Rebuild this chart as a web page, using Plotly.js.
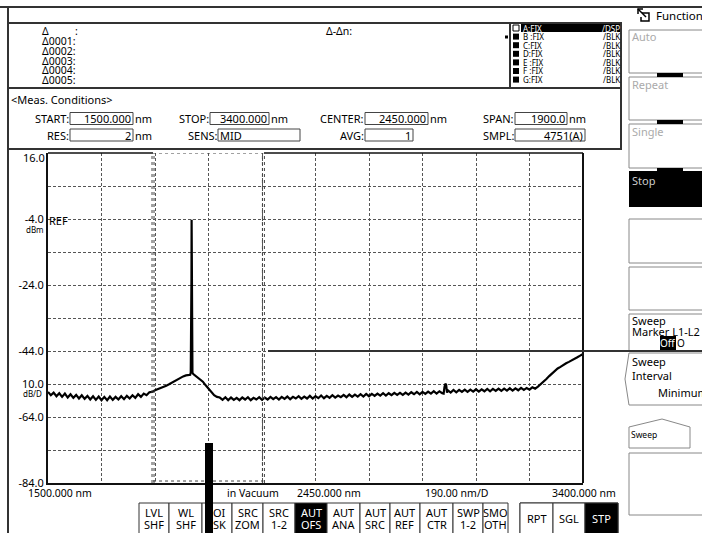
<!DOCTYPE html>
<html><head><meta charset="utf-8">
<script src="https://cdn.plot.ly/plotly-3.0.1.min.js"></script>
<style>html,body{margin:0;padding:0;background:#fff}#chart{width:702px;height:533px}</style>
</head><body><div id="chart"></div>
<script>
// ---------- DATA ----------
const wavelengthNm = [
 1500,1510,1520,1530,1540,1550,1560,1570,1580,1590,
 1600,1610,1620,1630,1640,1650,1660,1670,1680,1690,
 1700,1710,1720,1730,1740,1750,1760,1770,1780,1790,
 1800,1810,1820,1830,1840,1850,1860,
 1870,1880,1890,1900,1910,1920,1930,1940,1950,1960,1970,1980,1990,2000,
 2005,2007,2008.5,2009.5,2010,2010.5,2011.5,2013,
 2016,2022,2030,2040,2050,2060,2070,2080,2090,2100,
 2110,2120,2130,2140,2150,2160,2170,2180,2190,2200,
 2210,2220,2230,2240,2250,2260,2270,2280,2290,2300,
 2310,2320,2330,2340,2350,2360,2370,2380,2390,2400,
 2410,2420,2430,2440,2450,2460,2470,2480,2490,2500,
 2510,2520,2530,2540,2550,2560,2570,2580,2590,2600,
 2610,2620,2630,2640,2650,2660,2670,2680,2690,2700,
 2710,2720,2730,2740,2750,2760,2770,2780,2790,2800,
 2810,2820,2830,2840,2850,2860,2870,2880,2890,2900,
 2905,2908,2911,2914,2917,
 2920,2930,2940,2950,2960,2970,2980,2990,3000,3010,
 3020,3030,3040,3050,3060,3070,3080,3090,3100,3110,
 3120,3130,3140,3150,3160,3170,3180,3190,3200,3210,
 3220,3230,
 3240,3250,3260,3270,3280,3290,3300,3310,3320,3330,
 3340,3350,3360,3370,3380,3390,3400
];
const levelDbm = [
 -56.4,-57.4,-56.6,-57.7,-56.8,-57.9,-56.9,-58.1,-57.1,-58.2,
 -57.3,-58.4,-57.4,-58.5,-57.6,-58.7,-57.7,-58.8,-57.8,-58.9,
 -57.9,-58.9,-57.8,-58.8,-57.9,-58.7,-57.7,-58.6,-57.6,-58.4,
 -57.4,-58.2,-57.1,-57.9,-56.9,-57.4,-56.5,
 -56.4,-55.9,-55.6,-55.2,-54.9,-54.5,-54.1,-53.6,-53.2,-52.6,-52.1,-51.7,-51.4,-51.3,
 -51.2,-50.5,-42.0,-22.0,-4.2,-22.0,-43.0,-50.6,
 -51.0,-51.4,-51.9,-52.5,-53.3,-54.4,-55.5,-56.6,-57.4,-57.9,
 -58.1,-58.8,-58.0,-58.9,-58.1,-58.8,-58.2,-58.9,-58.1,-58.7,
 -58.0,-58.9,-58.2,-58.7,-58.0,-58.8,-58.1,-58.7,-57.9,-58.6,
 -58.0,-58.7,-57.9,-58.5,-57.8,-58.6,-57.9,-58.4,-57.7,-58.5,
 -57.8,-58.4,-57.6,-58.4,-57.7,-58.3,-57.5,-58.3,-57.6,-58.2,
 -57.4,-58.1,-57.5,-58.0,-57.3,-58.0,-57.2,-57.9,-57.2,-57.8,
 -57.1,-57.8,-57.0,-57.7,-57.0,-57.6,-56.9,-57.5,-56.8,-57.5,
 -56.8,-57.4,-56.7,-57.3,-56.7,-57.3,-56.6,-57.2,-56.5,-57.1,
 -56.4,-57.1,-56.4,-57.0,-56.3,-56.9,-56.2,-56.9,-56.2,-56.8,
 -56.9,-55.0,-53.9,-54.2,-56.6,
 -55.9,-56.6,-55.8,-56.5,-55.8,-56.4,-55.7,-56.4,-55.7,-56.3,
 -55.6,-56.3,-55.6,-56.2,-55.5,-56.2,-55.5,-56.1,-55.4,-56.1,
 -55.4,-56.0,-55.3,-56.0,-55.3,-55.9,-55.2,-55.8,-55.2,-55.7,
 -55.0,-55.4,
 -54.8,-54.1,-53.3,-52.5,-51.6,-50.8,-50.0,-49.3,-48.8,-48.2,
 -47.7,-47.3,-46.9,-46.4,-45.9,-45.4,-44.9
];
const yTickValues = [16, 6, -4, -14, -24, -34, -44, -54, -64, -74, -84];
const yTickLabels = ['', '', '-4.0', '', '-24.0', '', '-44.0', '10.0', '-64.0', '', '-84.0'];
const xRange = [1500, 3400];
const xDivision = 190;
const sweepMarkersNm = [1873, 2265];
const bottomLabels = ['1500.000 nm', 'in Vacuum', '2450.000 nm', '190.00 nm/D', '3400.000 nm'];
const markerRows = ['Δ0001:', 'Δ0002:', 'Δ0003:', 'Δ0004:', 'Δ0005:'];
const traceNames = ['A:FIX', 'B :FIX', 'C:FIX', 'D:FIX', 'E :FIX', 'F :FIX', 'G:FIX'];
const traceModes = ['/DSP', '/BLK', '/BLK', '/BLK', '/BLK', '/BLK', '/BLK'];
const condLabels1 = ['START:', 'STOP:', 'CENTER:', 'SPAN:'];
const condValues1 = ['1500.000', '3400.000', '2450.000', '1900.0'];
const condLabels2 = ['RES:', 'SENS:', 'AVG:', 'SMPL:'];
const condValues2 = ['2', 'MID', '1', '4751(A)'];
const keyTop = ['LVL', 'WL', 'OI', 'SRC', 'SRC', 'AUT', 'AUT', 'AUT', 'AUT', 'AUT', 'SWP', 'SMO'];
const keyBottom = ['SHF', 'SHF', 'SK', 'ZOM', '1-2', 'OFS', 'ANA', 'SRC', 'REF', 'CTR', '1-2', 'OTH'];
const sweepKeys = ['RPT', 'SGL', 'STP'];

// ---------- LAYOUT HELPERS ----------
const W = 702, H = 533;
const FONT = '"Noto Sans", "DejaVu Sans", sans-serif';
const PX = x => x / W, PY = y => 1 - y / H;
const annotations = [], shapes = [];
function txt(x, y, t, o = {}) {
  annotations.push({xref:'paper', yref:'paper', x:PX(x), y:PY(y), text:t, showarrow:false,
    xanchor:o.a || 'left', yanchor:'middle', borderpad:0, borderwidth:0,
    bgcolor:o.bg || 'rgba(0,0,0,0)',
    font:{family:FONT, size:o.s || 11, color:o.c || '#000'}});
}
function rect(x0, y0, x1, y1, o = {}) {
  shapes.push({type:'rect', xref:'paper', yref:'paper', x0:PX(x0), x1:PX(x1), y0:PY(y1), y1:PY(y0),
    line:{color:o.lc || '#222', width:(o.lw === undefined ? 1 : o.lw)},
    fillcolor:o.fill || 'rgba(0,0,0,0)', layer:'above'});
}
function seg(x0, y0, x1, y1, o = {}) {
  shapes.push({type:'line', xref:'paper', yref:'paper', x0:PX(x0), x1:PX(x1), y0:PY(y0), y1:PY(y1),
    line:{color:o.c || '#222', width:o.w || 1, dash:o.d || 'solid'}, layer:'above'});
}
function poly(pts, o = {}) {
  const d = pts.map((p, i) => (i ? 'L' : 'M') + PX(p[0]).toFixed(5) + ',' + PY(p[1]).toFixed(5)).join(' ') + (o.close ? ' Z' : '');
  shapes.push({type:'path', xref:'paper', yref:'paper', path:d,
    line:{color:o.c || '#222', width:o.w || 1}, fillcolor:o.fill || 'rgba(0,0,0,0)', layer:'above'});
}

// ---------- FRAMES ----------
seg(0, 7, 702, 7, {w:2, c:'#333'});
seg(8, 7, 8, 533, {w:2, c:'#333'});
rect(8, 23, 621, 149, {lw:2, lc:'#333'});
seg(8, 88, 621, 88, {w:2, c:'#333'});
seg(510, 23, 510, 88, {w:2, c:'#333'});

// marker list
txt(42, 31, 'Δ', {s:10.5}); txt(75, 31, ':', {s:10.5});
markerRows.forEach((t, i) => txt(42, 41 + i * 9.8, t, {s:10.5}));
txt(326, 31, 'Δ-Δn:', {s:10.5});

// trace list
rect(521, 24, 620, 32, {lw:0, fill:'#000'});
rect(505, 35.5, 508, 38.5, {lw:0, fill:'#000'});
traceNames.forEach((t, i) => {
  const y = 28 + i * 8.6;
  if (i === 0) rect(513, y - 3, 519, y + 3, {lw:1, lc:'#000', fill:'#fff'});
  else rect(513, y - 3, 519, y + 3, {lw:0, fill:'#000'});
  const col = i === 0 ? '#fff' : '#000';
  txt(523, y, t, {s:8, c:col});
  txt(620, y, traceModes[i], {s:8, c:col, a:'right'});
});

// measurement conditions
txt(11, 99, '&lt;Meas. Conditions&gt;');
const c1 = [[69, 70, 133, 'r'], [209, 210, 269, 'r'], [364, 365, 428, 'r'], [514, 515, 567, 'r']];
const c2 = [[69, 70, 133, 'r'], [218, 218, 300, 'l'], [364, 365, 413, 'r'], [514, 515, 585, 'r']];
const nm1 = [true, true, true, true], nm2 = [true, false, false, false];
c1.forEach((c, i) => {
  txt(c[0], 118.5, condLabels1[i], {a:'right'});
  rect(c[1], 112.5, c[2], 124.5, {lw:1, lc:'#444'});
  txt(c[2] - 2, 118.5, condValues1[i], {a:'right'});
  if (nm1[i]) txt(c[2] + 2, 118.5, 'nm');
});
c2.forEach((c, i) => {
  txt(c[0], 135, condLabels2[i], {a:'right'});
  rect(c[1], 129, c[2], 141, {lw:1, lc:'#444'});
  if (c[3] === 'l') txt(c[1] + 2, 135, condValues2[i]);
  else txt(c[2] - 2, 135, condValues2[i], {a:'right'});
  if (nm2[i]) txt(c[2] + 2, 135, 'nm');
});

// plot frame extras
seg(583, 153, 583, 483, {w:2, c:'#111'});
seg(48, 153, 153, 153, {w:1.5, c:'#111'});
seg(264, 153, 583, 153, {w:1.5, c:'#111'});
txt(45, 157, '16.0', {a:'right'});
txt(49, 220, 'REF');
txt(44, 229, 'dBm', {s:8, a:'right'});
txt(42, 393, 'dB/D', {s:8, a:'right'});

// sweep marker dotted box (data coords)
const nmPerPx = (xRange[1] - xRange[0]) / 535;
sweepMarkersNm.forEach(m => {
  [m - nmPerPx, m + nmPerPx].forEach(x => shapes.push({type:'line', xref:'x', yref:'y', x0:x, x1:x, y0:-84, y1:16,
    line:{color:'#444', width:1, dash:'dot'}, layer:'above'}));
});
shapes.push({type:'line', xref:'x', yref:'y', x0:sweepMarkersNm[0], x1:sweepMarkersNm[1], y0:16, y1:16, line:{color:'#444', width:1, dash:'dot'}, layer:'above'});
shapes.push({type:'line', xref:'x', yref:'y', x0:sweepMarkersNm[0], x1:sweepMarkersNm[1], y0:-83.4, y1:-83.4, line:{color:'#444', width:1, dash:'dot'}, layer:'above'});

// bottom axis labels
const bx = [28, 227, 297, 425, 552];
bottomLabels.forEach((t, i) => txt(bx[i], 493, t, {s:10.5}));

// bottom soft keys
const kb = [139, 169, 202, 232, 263, 295, 327, 360, 390, 420, 453, 483, 508];
keyTop.forEach((t, i) => {
  const dark = keyBottom[i] === 'OFS';
  rect(kb[i], 503, kb[i + 1], 534, {lw:1, lc:'#333', fill:dark ? '#000' : '#fff'});
  const cx = (kb[i] + kb[i + 1]) / 2, col = dark ? '#fff' : '#000';
  if (t === 'OI') { txt(213, 512, t); txt(213, 524, keyBottom[i]); }
  else { txt(cx, 512, t, {a:'center', c:col}); txt(cx, 524, keyBottom[i], {a:'center', c:col}); }
});
const sb = [520, 553, 585, 618];
rect(520, 503, 618, 534, {lw:1, lc:'#333'});
sweepKeys.forEach((t, i) => {
  const dark = t === 'STP';
  rect(sb[i], 503, sb[i + 1], 534, {lw:1, lc:'#333', fill:dark ? '#000' : '#fff'});
  txt((sb[i] + sb[i + 1]) / 2, 518, t, {a:'center', c:dark ? '#fff' : '#000'});
});
rect(205, 443, 213, 534, {lw:0, fill:'#000'});

// right panel
poly([[638, 14], [638, 9], [643, 9]], {w:1.5, c:'#000'});
poly([[638, 9], [646, 17]], {w:1.5, c:'#000'});
poly([[642, 13], [649, 13], [649, 21], [641, 21], [641, 17]], {w:1.5, c:'#000'});
txt(656, 15, 'Function', {s:11.5});
const boxes = [[30, 73], [77, 120], [124, 168], [219, 263], [267, 310], [314, 351], [453, 515]];
boxes.forEach(b => rect(629, b[0], 704, b[1], {lw:1, lc:'#888'}));
rect(629, 171, 704, 207, {lw:0, fill:'#000'});
[[73, 77], [120, 124], [168, 171]].forEach(b => rect(657, b[0], 683, b[1], {lw:0, fill:'#000'}));
poly([[704, 353], [629, 353], [625, 379], [629, 405], [704, 405]], {c:'#888'});
poly([[629, 427], [662, 419], [690, 427], [690, 448], [629, 448]], {c:'#888', close:true});
txt(632, 36, 'Auto', {c:'#aaa'});
txt(632, 84, 'Repeat', {c:'#aaa'});
txt(632, 131, 'Single', {c:'#aaa'});
txt(632, 180, 'Stop', {c:'#ccc'});
txt(632, 320, 'Sweep');
txt(632, 331, 'Marker L1-L2');
txt(660, 343, 'Off', {bg:'#000', c:'#fff', s:10});
txt(677, 343, 'O', {s:10});
txt(632, 361, 'Sweep');
txt(632, 375, 'Interval');
txt(658, 392, 'Minimum');
txt(631, 434, 'Sweep', {s:8.5});
seg(268, 351, 704, 351, {w:2, c:'#333'});

// ---------- PLOT ----------
const trace = {x:wavelengthNm, y:levelDbm, type:'scatter', mode:'lines',
  line:{color:'#000', width:2.2}, hoverinfo:'skip'};
const layout = {
  width:W, height:H, margin:{l:0, r:0, t:0, b:0},
  paper_bgcolor:'#fff', plot_bgcolor:'#fff', showlegend:false,
  xaxis:{domain:[48 / W, 583 / W], range:xRange, tick0:xRange[0], dtick:xDivision,
    showticklabels:false, ticks:'', showgrid:true, gridcolor:'#555', griddash:'3px,2px', gridwidth:1,
    showline:true, linecolor:'#111', linewidth:2, zeroline:false, fixedrange:true},
  yaxis:{domain:[1 - 483 / H, 1 - 153 / H], range:[-84, 16], tickmode:'array',
    tickvals:yTickValues, ticktext:yTickLabels, ticks:'',
    tickfont:{family:FONT, size:11, color:'#000'},
    showgrid:true, gridcolor:'#555', griddash:'3px,2px', gridwidth:1,
    showline:true, linecolor:'#111', linewidth:2, zeroline:false, fixedrange:true},
  shapes:shapes, annotations:annotations
};
Plotly.newPlot('chart', [trace], layout, {staticPlot:true, displayModeBar:false});
</script>
</body></html>
